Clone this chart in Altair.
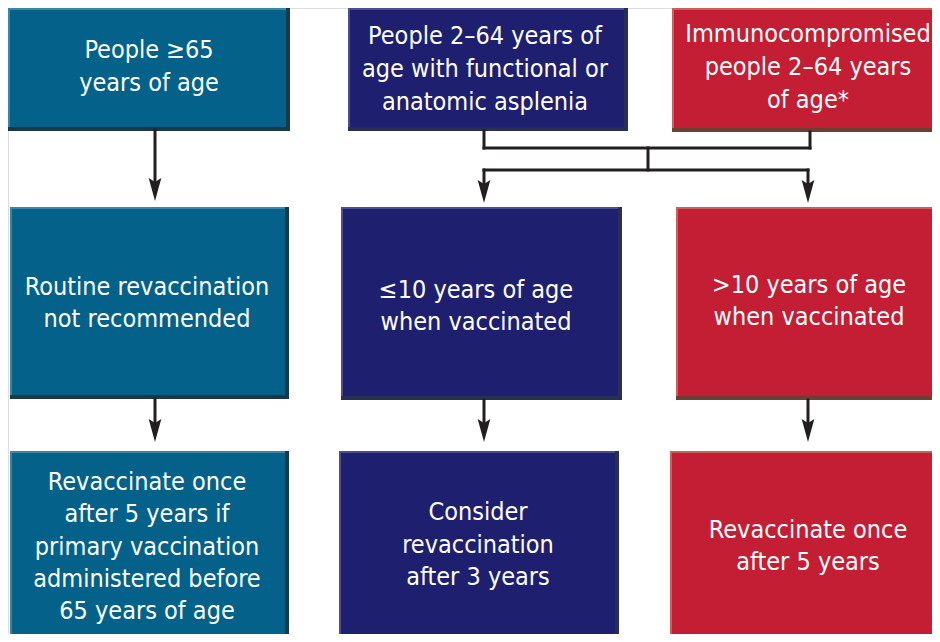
import altair as alt
import pandas as pd

# ---- content ----
box_labels = [
    "People ≥65\nyears of age",
    "People 2–64 years of\nage with functional or\nanatomic asplenia",
    "Immunocompromised\npeople 2–64 years\nof age*",
    "Routine revaccination\nnot recommended",
    "≤10 years of age\nwhen vaccinated",
    ">10 years of age\nwhen vaccinated",
    "Revaccinate once\nafter 5 years if\nprimary vaccination\nadministered before\n65 years of age",
    "Consider\nrevaccination\nafter 3 years",
    "Revaccinate once\nafter 5 years",
]
box_group = ["teal", "navy", "red", "teal", "navy", "red", "teal", "navy", "red"]

# ---- layout (pixel space of the 940x642 page) ----
box_x1 = [8, 348, 672, 10, 341, 676, 10, 339, 670]
box_x2 = [290, 628, 950, 289, 622, 950, 289, 619, 950]
box_y1 = [8, 8, 8, 207, 207, 207, 451, 451, 451]
box_y2 = [131, 131, 132, 399, 400, 400, 650, 650, 650]
text_x = [149, 485, 808, 147, 476, 809, 147, 478, 808]
text_y = [50, 36, 34, 287, 290, 285, 482, 512, 530]
line_h = [33, 33, 33, 32, 32, 32, 32.3, 32.5, 32]

main_col = {"teal": "#03618a", "navy": "#1f1f70", "red": "#c31e33"}
dark_col = {"teal": "#1b3844", "navy": "#283052", "red": "#6e3e34"}
light_col = {"teal": "#3d86a3", "navy": "#4d4d90", "red": "#cc5f5a"}

seg_x1 = [484, 810, 484, 648, 484, 808, 484, 155, 155, 484, 808]
seg_y1 = [131, 132, 148, 148, 170, 170, 170, 131, 399, 400, 400]
seg_x2 = [484, 810, 810, 648, 808, 808, 484, 155, 155, 484, 808]
seg_y2 = [148, 148, 148, 170, 170, 190, 190, 190, 432, 432, 432]

arrow_x = [155, 484, 808, 155, 484, 808]
arrow_tip = [201, 203, 203, 442, 442, 442]

ARROW = 23

boxes = pd.DataFrame({
    "label": box_labels, "g": box_group,
    "x1": box_x1, "x2": box_x2, "y1": box_y1, "y2": box_y2,
    "tx": text_x, "ty": text_y,
})
boxes["main"] = boxes["g"].map(main_col)
boxes["dark"] = boxes["g"].map(dark_col)
boxes["light"] = boxes["g"].map(light_col)
boxes["ix2"] = boxes["x2"] - 4
boxes["iy2"] = boxes["y2"] - 4
boxes["hx1"] = boxes["x1"] + 2
boxes["hy1"] = boxes["y1"] + 2

segs = pd.DataFrame({"x": seg_x1, "y": seg_y1, "x2": seg_x2, "y2": seg_y2})
arrows = pd.DataFrame({"x": arrow_x, "y": [t - ARROW / 2 for t in arrow_tip]})

xs = alt.Scale(domain=[8, 932], nice=False, zero=False)
ys = alt.Scale(domain=[8, 634], reverse=True, nice=False, zero=False)

base = alt.Chart(boxes)

dark = base.mark_rect(clip=True).encode(
    x=alt.X("x1:Q", scale=xs, axis=None), x2="x2:Q",
    y=alt.Y("y1:Q", scale=ys, axis=None), y2="y2:Q",
    color=alt.Color("dark:N", scale=None),
)
light = base.mark_rect(clip=True).encode(
    x=alt.X("x1:Q", scale=xs, axis=None), x2="ix2:Q",
    y=alt.Y("y1:Q", scale=ys, axis=None), y2="iy2:Q",
    color=alt.Color("light:N", scale=None),
)
main = base.mark_rect(clip=True).encode(
    x=alt.X("hx1:Q", scale=xs, axis=None), x2="ix2:Q",
    y=alt.Y("hy1:Q", scale=ys, axis=None), y2="iy2:Q",
    color=alt.Color("main:N", scale=None),
)

texts = []
for lh in sorted(set(line_h)):
    sub = boxes[[abs(h - lh) < 1e-9 for h in line_h]]
    texts.append(
        alt.Chart(sub).mark_text(
            color="white", fontSize=25, lineHeight=lh, lineBreak="\n",
            font="DejaVu Sans Condensed, Liberation Sans Narrow, sans-serif",
            align="center", baseline="middle",
        ).encode(
            x=alt.X("tx:Q", scale=xs, axis=None),
            y=alt.Y("ty:Q", scale=ys, axis=None),
            text="label:N",
        )
    )

lines = alt.Chart(segs).mark_rule(color="#231f20", strokeWidth=3, strokeCap="square").encode(
    x=alt.X("x:Q", scale=xs, axis=None), x2="x2:Q",
    y=alt.Y("y:Q", scale=ys, axis=None), y2="y2:Q",
)
heads = alt.Chart(arrows).mark_point(
    shape="M-0.55,-1 L0,-0.65 L0.55,-1 L0,1 Z",
    filled=True, color="#231f20", opacity=1, size=ARROW * ARROW,
).encode(
    x=alt.X("x:Q", scale=xs, axis=None),
    y=alt.Y("y:Q", scale=ys, axis=None),
)

chart = alt.layer(dark, light, main, lines, heads, *texts).properties(
    width=924, height=626, padding=0,
).configure_view(stroke=None).configure(background="white")

chart.save("out.html", embed_options={"renderer": "svg", "actions": False})
